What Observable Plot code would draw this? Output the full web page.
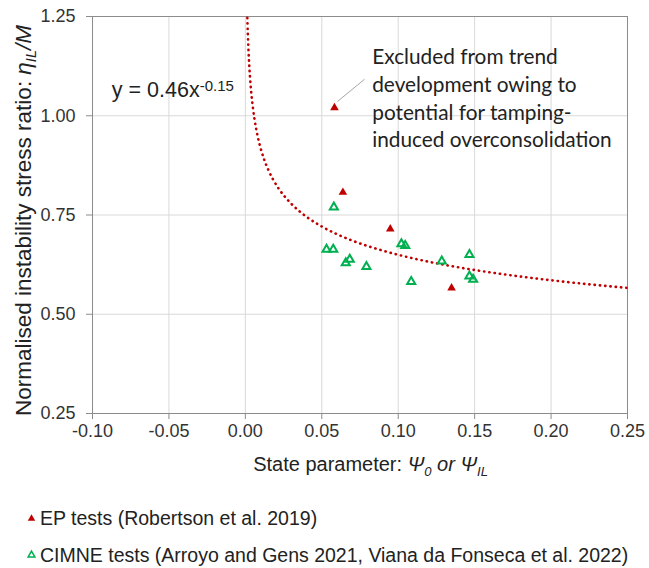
<!DOCTYPE html>
<html><head><meta charset="utf-8">
<script src="https://cdn.jsdelivr.net/npm/d3@7"></script>
<script src="https://cdn.jsdelivr.net/npm/@observablehq/plot@0.6"></script>
<style>
body{margin:0;background:#fff;font-family:"Liberation Sans",Arial,sans-serif;}
#chart{width:649px;}
</style></head><body><div id="chart"></div>
<script>
// EP tests (Robertson et al. 2019) — filled red triangles
const epX = [0.0583, 0.0638, 0.0948, 0.1349];
const epY = [1.020, 0.807, 0.715, 0.566];
// CIMNE tests — hollow green triangles
const cimneX = [0.0579, 0.0531, 0.0575, 0.0657, 0.0683, 0.0792, 0.1021, 0.1046, 0.1085, 0.1285, 0.1466, 0.1466, 0.1490];
const cimneY = [0.770, 0.663, 0.663, 0.629, 0.638, 0.620, 0.677, 0.673, 0.582, 0.634, 0.650, 0.596, 0.588];
const xTicks = [-0.10, -0.05, 0.00, 0.05, 0.10, 0.15, 0.20, 0.25];
const yTicks = [0.25, 0.50, 0.75, 1.00, 1.25];
// Trend line shown on the chart: y = 0.46 x^-0.15
const trendA = 0.46, trendB = -0.15;
const trendX = [0.0013, 0.0014, 0.0016, 0.0018, 0.002, 0.0025, 0.003, 0.0035, 0.004, 0.005, 0.006, 0.007, 0.008, 0.01, 0.012, 0.015, 0.018, 0.022, 0.026, 0.03, 0.035, 0.04, 0.05, 0.06, 0.07, 0.08, 0.09, 0.1, 0.12, 0.14, 0.16, 0.18, 0.2, 0.22, 0.25];
const annoLines = ["Excluded from trend", "development owing to", "potential for tamping-", "induced overconsolidation"];
const legendLabels = ["EP tests (Robertson et al. 2019)", "CIMNE tests (Arroyo and Gens 2021, Viana da Fonseca et al. 2022)"];

const ep = epX.map((x, i) => ({x, y: epY[i]}));
const cimne = cimneX.map((x, i) => ({x, y: cimneY[i]}));
const trend = trendX.map(x => ({x, y: trendA * Math.pow(x, trendB)}));

const RED = "#c00000", GREEN = "#00b050", TXT = "#222";
const fmt = d => d.toFixed(2);

function titles(index, scales, values, dims) {
  const g = d3.create("svg:g").attr("fill", TXT).attr("font-family", "'Liberation Sans', Arial, sans-serif");
  const x0 = dims.marginLeft, x1 = dims.width - dims.marginRight;
  const yb = dims.height - dims.marginBottom;
  // x title
  const xt = g.append("text").attr("x", (x0 + x1) / 2 + 11).attr("y", yb + 58)
    .attr("text-anchor", "middle").attr("font-size", 20);
  xt.append("tspan").text("State parameter: ");
  xt.append("tspan").attr("font-style", "italic").text("Ψ");
  xt.append("tspan").attr("font-style", "italic").attr("font-size", 13).attr("dy", 5).text("0");
  xt.append("tspan").attr("font-style", "italic").attr("font-size", 20).attr("dy", -5).text(" or Ψ");
  xt.append("tspan").attr("font-style", "italic").attr("font-size", 13).attr("dy", 5).text("IL");
  // y title
  const yt = g.append("text").attr("transform", `translate(31,${(dims.marginTop + yb) / 2 + 6}) rotate(-90)`)
    .attr("text-anchor", "middle").attr("font-size", 22.5);
  yt.append("tspan").text("Normalised instability stress ratio: ");
  yt.append("tspan").attr("font-style", "italic").text("η");
  yt.append("tspan").attr("font-style", "italic").attr("font-size", 14.5).attr("dy", 5).text("IL");
  yt.append("tspan").attr("font-style", "italic").attr("font-size", 22.5).attr("dy", -5).text("/M");
  // equation
  const eq = g.append("text").attr("x", scales.x(-0.087)).attr("y", scales.y(1.045))
    .attr("text-anchor", "start").attr("font-size", 21.5);
  eq.append("tspan").text("y = 0.46x");
  eq.append("tspan").attr("font-size", 15).attr("dy", -6).text("-0.15");
  return g.node();
}

const plot = Plot.plot({
  width: 649,
  height: 490,
  marginLeft: 92,
  marginRight: 22,
  marginTop: 16,
  marginBottom: 77,
  style: {fontFamily: "'Liberation Sans', Arial, sans-serif", fontSize: "18px", background: "#fff", overflow: "visible"},
  x: {domain: [-0.10, 0.25]},
  y: {domain: [0.25, 1.25]},
  marks: [
    Plot.gridX(xTicks, {stroke: "#d9d9d9", strokeOpacity: 1}),
    Plot.gridY(yTicks, {stroke: "#d9d9d9", strokeOpacity: 1}),
    Plot.frame({stroke: "#8c8c8c"}),
    Plot.line(trend, {x: "x", y: "y", curve: "monotone-x", stroke: RED, strokeWidth: 2.6, strokeDasharray: "0.3,5", strokeLinecap: "round"}),
    Plot.link([{x1: 0.0603, y1: 1.036, x2: 0.0780, y2: 1.092}], {x1: "x1", y1: "y1", x2: "x2", y2: "y2", stroke: "#a6a6a6", strokeWidth: 1}),
    Plot.dot(cimne, {x: "x", y: "y", symbol: "triangle", r: 3, stroke: GREEN, strokeWidth: 2, fill: "none"}),
    Plot.dot(ep, {x: "x", y: "y", symbol: "triangle", r: 3.2, fill: RED, stroke: "none"}),
    Plot.text([annoLines.join("\n")], {x: 0.083, y: 1.18, text: d => d, textAnchor: "start", lineAnchor: "top", lineHeight: 1.336, fontSize: 20.8, fontFamily: "Lato, 'Open Sans', sans-serif", fill: TXT}),
    Plot.axisX(xTicks, {tickFormat: fmt, tickSize: 6, tickPadding: 5, fontSize: 18, stroke: "#8c8c8c", fill: "#333", label: null}),
    Plot.axisY(yTicks, {tickFormat: fmt, tickSize: 6, tickPadding: 11, fontSize: 18, stroke: "#8c8c8c", fill: "#333", label: null}),
    titles
  ]
});
document.getElementById("chart").appendChild(plot);

// Legend below the chart
const leg = d3.select("#chart").append("svg").attr("width", 649).attr("height", 78)
  .style("display", "block").attr("font-family", "'Liberation Sans', Arial, sans-serif");
leg.append("path").attr("d", d3.symbol(d3.symbolTriangle, 24)()).attr("transform", "translate(31.5,28.5)").attr("fill", RED);
leg.append("text").attr("x", 40).attr("y", 35).attr("font-size", 19.5).attr("fill", TXT).text(legendLabels[0]);
leg.append("path").attr("d", d3.symbol(d3.symbolTriangle, 20)()).attr("transform", "translate(31.5,65)").attr("fill", "none").attr("stroke", GREEN).attr("stroke-width", 1.5);
leg.append("text").attr("x", 40).attr("y", 72).attr("font-size", 19.5).attr("fill", TXT).text(legendLabels[1]);
</script></body></html>
